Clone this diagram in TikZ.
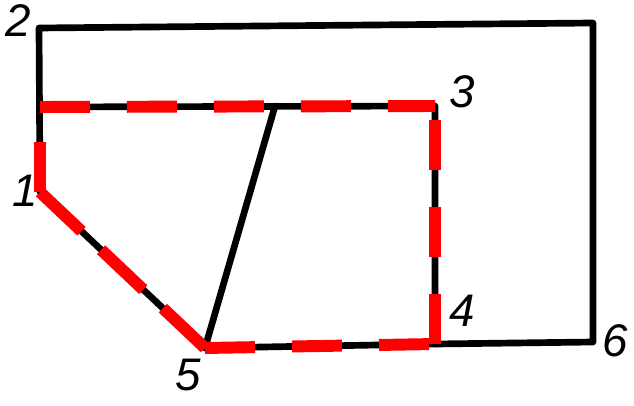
\documentclass[tikz,border=0pt]{standalone}
\usepackage{fontspec}
\setmainfont{Liberation Sans}
\usetikzlibrary{positioning}

\begin{document}
\begin{tikzpicture}[
			x=0.02cm, y=-0.02cm,
			edge/.style={
					line width=3.8pt,
					line join=round,
					line cap=round
				},
			route/.style={
					draw=red,
					line width=6.8pt,
					dash pattern=on 1cm off 0.74cm
				},
			num/.style={
					font=\fontsize{26}{26}\selectfont\itshape,
					inner sep=0pt
				}
		]

		\useasboundingbox (0,0) rectangle (634,405);

		% corner points
		\coordinate (p1) at (40,192);
		\coordinate (p2) at (39,28);
		\coordinate (p3) at (435,106);
		\coordinate (p4) at (435,344);
		\coordinate (p5) at (205,348);
		\coordinate (p6) at (593,342);
		\coordinate (topright) at (593,23);
		\coordinate (mid) at (40,107);
		\coordinate (split) at (275,106);

		% black outline
		\draw[edge] (p1) -- (p2) -- (topright) -- (p6) -- (p4) -- (p5) -- cycle;
		\draw[edge] (mid) -- (p3) -- (p4);
		\draw[edge] (split) -- (p5);

		% red dashed loop, one side at a time
		\draw[route] (mid) -- (p3);
		\draw[route, dash phase=1.46cm] (p3) -- (p4);
		\draw[route] (p5) -- (p4);
		\draw[route, dash pattern=on 1.16cm off 0.54cm] (p5) -- (p1);
		\draw[route] (p1) -- (mid);

		% labels
		\node[num] (n1) at (25,191) {1};
		\node[num] (n2) at (18,21) {2};
		\node[num] (n3) at (462,92) {3};
		\node[num] (n4) at (462,311) {4};
		\node[num] (n5) at (188,375) {5};
		\node[num] (n6) at (615,341) {6};

	\end{tikzpicture}
\end{document}
